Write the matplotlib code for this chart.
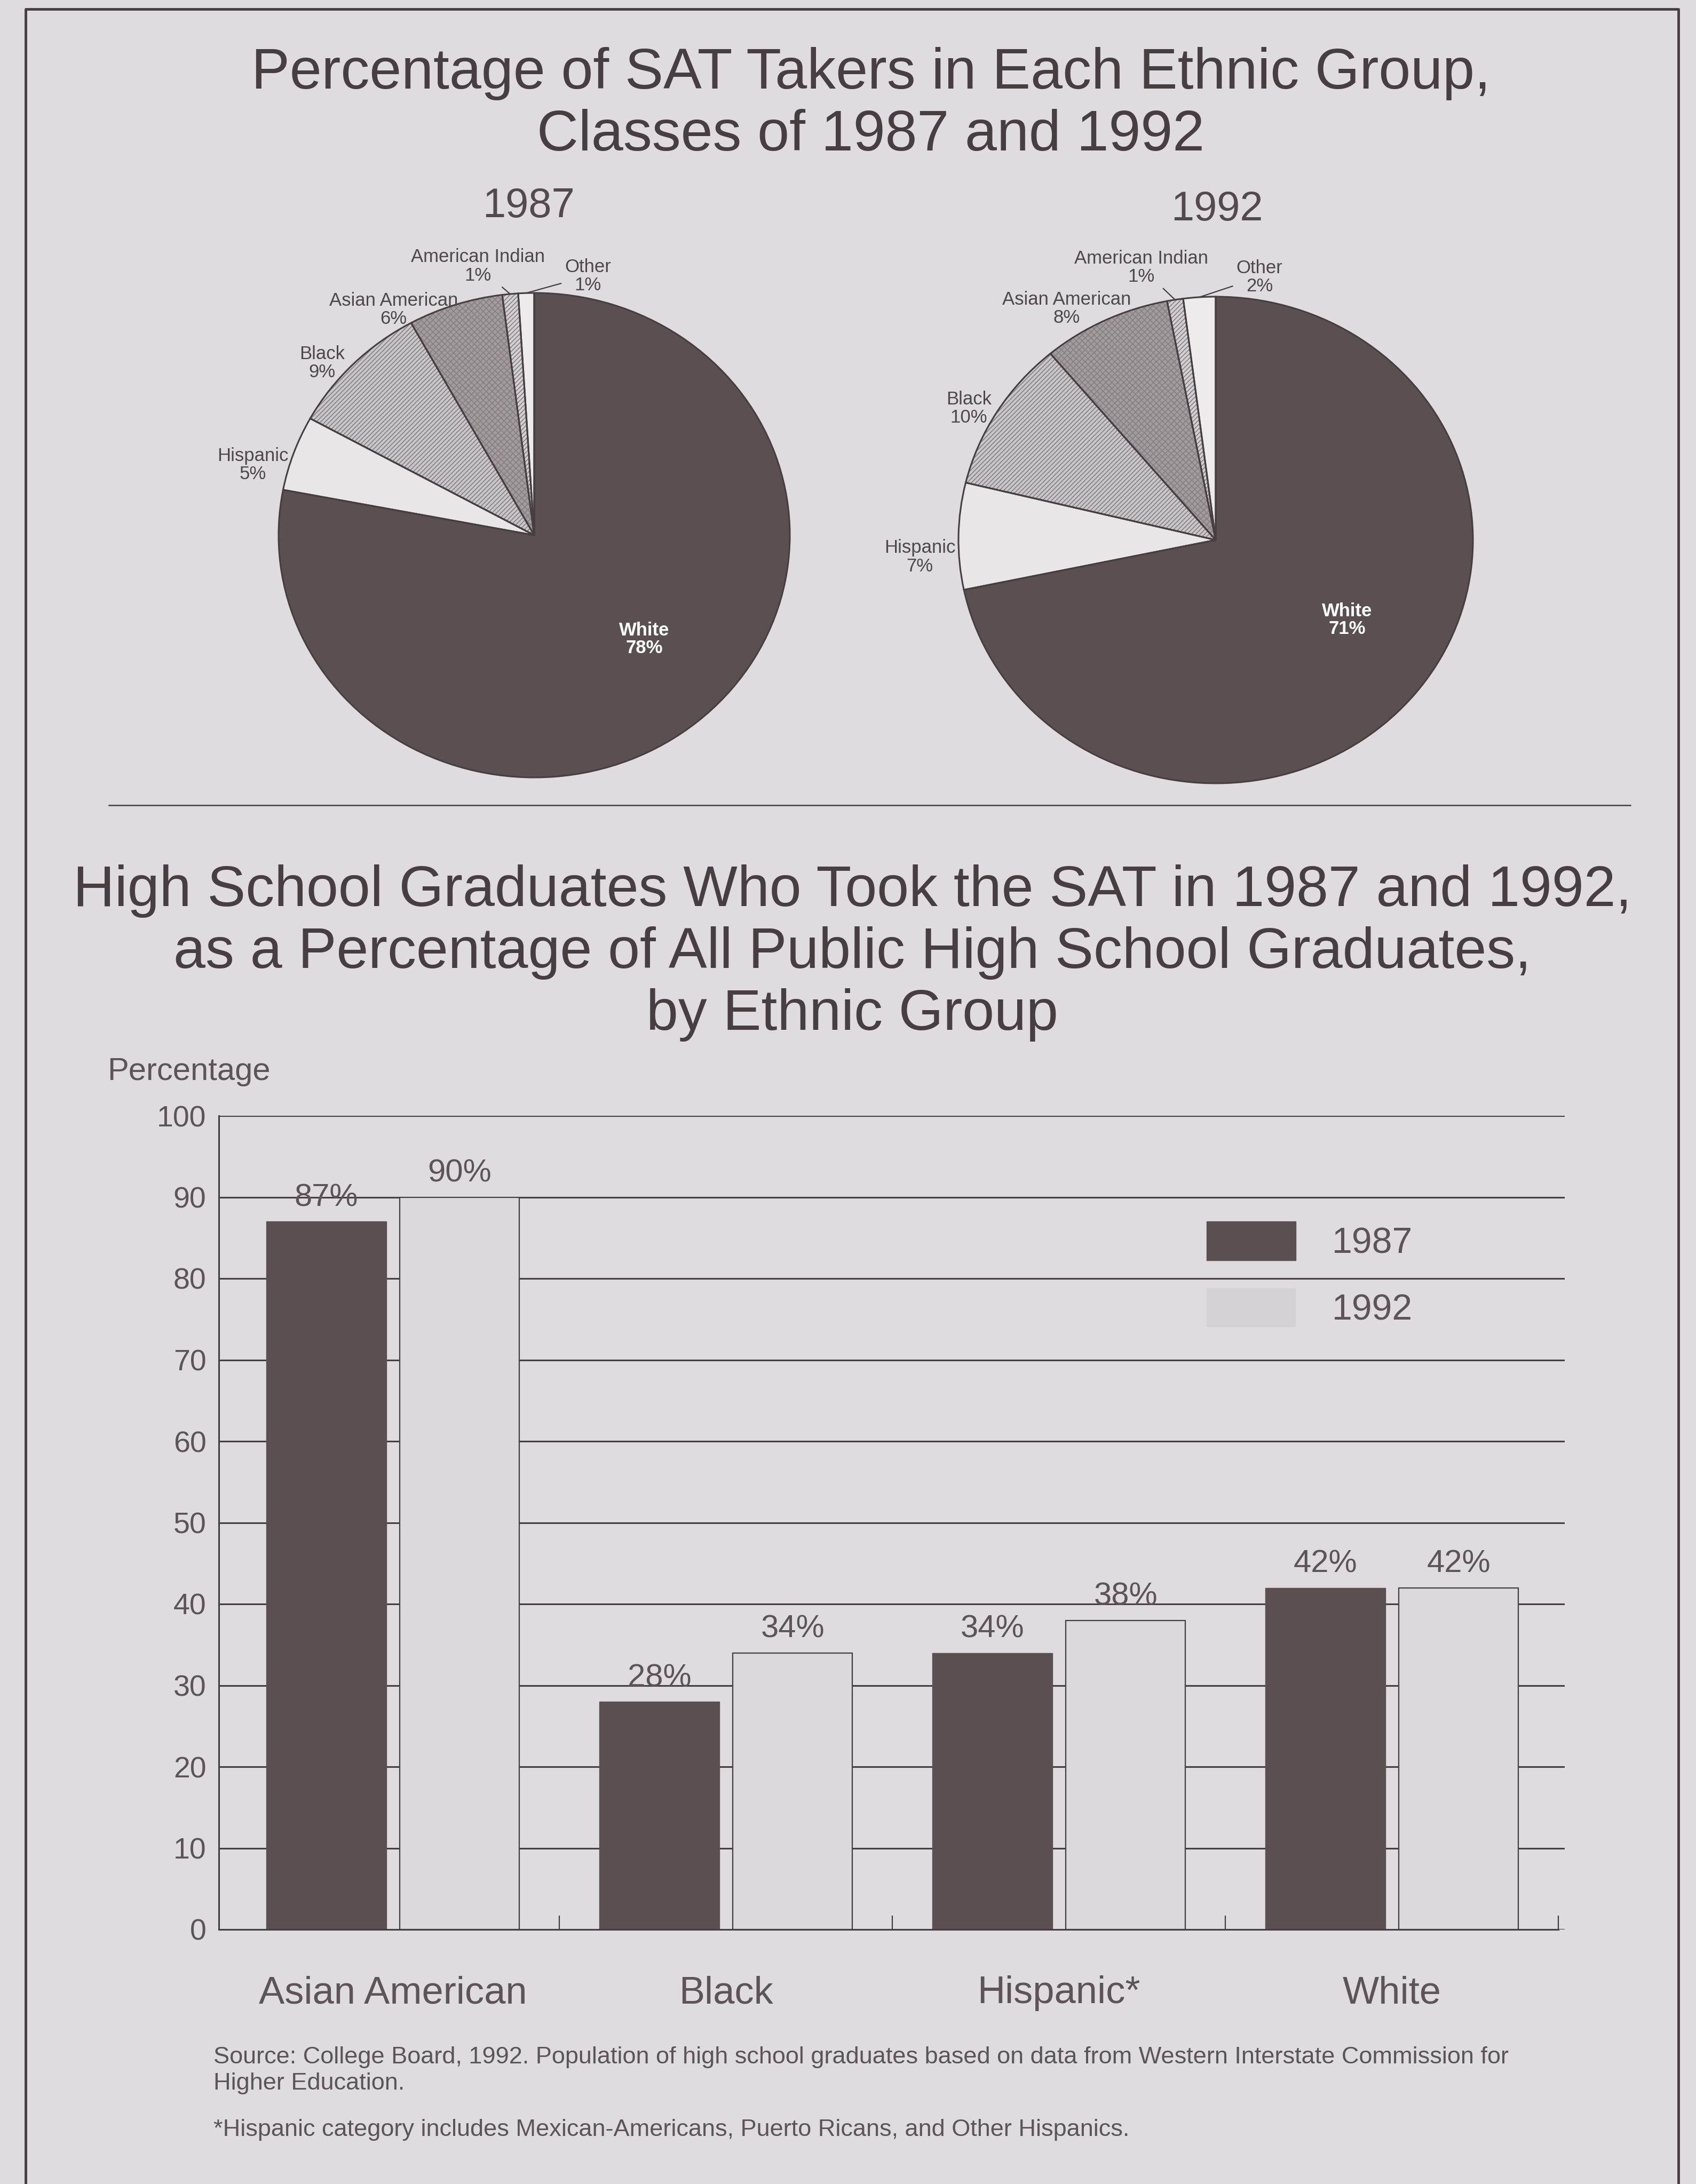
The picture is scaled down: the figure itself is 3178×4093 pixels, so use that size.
import numpy as np
import matplotlib.pyplot as plt
import matplotlib.patches as mpatches
from matplotlib.lines import Line2D

# pie data: share of SAT takers (%), clockwise from 12 o'clock
pie_groups = ['White', 'Hispanic', 'Black', 'Asian American', 'American Indian', 'Other']
share_1987 = [78, 5, 9, 6, 1, 1]
share_1992 = [71, 7, 10, 8, 1, 2]

# bar data: graduates who took the SAT (% of public HS graduates)
bar_groups = ['Asian American', 'Black', 'Hispanic*', 'White']
took_1987 = [87, 28, 34, 42]
took_1992 = [90, 34, 38, 42]
years = ['1987', '1992']
y_ticks = [0, 10, 20, 30, 40, 50, 60, 70, 80, 90, 100]

W, H = 3178, 4093
paper = '#dfdbde'
ink = '#463e40'
grey_txt = '#5c5457'
dark = '#5a5052'
light = '#dcd8db'

plt.rcParams['font.family'] = ['Liberation Sans', 'DejaVu Sans']
plt.rcParams['hatch.color'] = '#877f82'
plt.rcParams['hatch.linewidth'] = 1.2


def fx(x):
    return x / W


def fy(y):
    return 1 - y / H


def box(x0, y0, x1, y1):
    # pixel box of the reference -> figure fraction rect
    return [x0 / W, 1 - y1 / H, (x1 - x0) / W, (y1 - y0) / H]


fig = plt.figure(figsize=(W / 100, H / 100), dpi=100, facecolor=paper)

# page frame and divider
fig.add_artist(Line2D([fx(48), fx(48), fx(3145), fx(3145)],
                      [fy(4093), fy(17), fy(17), fy(4093)], color=ink, lw=3.5))
fig.add_artist(Line2D([fx(204), fx(3055)], [fy(1509), fy(1509)], color=ink, lw=1.8))

fig.text(fx(1632), fy(196), 'Percentage of SAT Takers in Each Ethnic Group,\nClasses of 1987 and 1992',
         ha='center', va='center', fontsize=77.5, color=ink, linespacing=1.2)

# ---- pies ----
pie_fill = ['#5a5052', '#e9e6e8', '#cbc6c9', '#a39c9f', '#d4cfd2', '#eeebed']
pie_hatch = ['', '', '////', 'xxx', '////', '']
pie_boxes = [(522, 549, 1480, 1457), (1796, 556, 2760, 1468)]
year_pos = [(990, 386), (2280, 392)]
lab_pos = [
    [(0.43, -0.43), (-1.10, 0.29), (-0.83, 0.71), (-0.55, 0.93), (-0.22, 1.11), (0.21, 1.07)],
    [(0.51, -0.33), (-1.15, -0.07), (-0.96, 0.54), (-0.58, 0.95), (-0.29, 1.12), (0.17, 1.08)],
]

for shares, yr, pb, yp, lp in zip([share_1987, share_1992], years, pie_boxes, year_pos, lab_pos):
    ax = fig.add_axes(box(*pb))
    ax.pie(shares, colors=pie_fill, hatch=pie_hatch, startangle=90, counterclock=False,
           wedgeprops=dict(linewidth=0))
    wedges, _ = ax.pie(shares, colors=['none'] * len(shares), startangle=90, counterclock=False,
                       wedgeprops=dict(edgecolor=ink, linewidth=2.2, fill=False))
    ax.set_aspect('auto')
    ax.set_xlim(-1, 1)
    ax.set_ylim(-1, 1)
    fig.text(fx(yp[0]), fy(yp[1]), yr, ha='center', va='center', fontsize=56, color='#524a4d')
    for name, v, w, p in zip(pie_groups, shares, wedges, lp):
        txt = f'{name}\n{v}%'
        if name == 'White':
            ax.text(p[0], p[1], txt, ha='center', va='center', fontsize=25, color='white',
                    fontweight='bold', linespacing=1.0)
        elif name in ('American Indian', 'Other'):
            mid = np.deg2rad((w.theta1 + w.theta2) / 2)
            ax.annotate(txt, xy=(np.cos(mid), np.sin(mid)), xytext=p, ha='center', va='center',
                        fontsize=25, color='#4f4749', linespacing=1.05,
                        arrowprops=dict(arrowstyle='-', color=ink, lw=1.6, shrinkA=3, shrinkB=0))
        else:
            ax.text(p[0], p[1], txt, ha='center', va='center', fontsize=25, color='#4f4749',
                    linespacing=1.05)

# ---- bar chart ----
fig.text(fx(1597), fy(1786),
         'High School Graduates Who Took the SAT in 1987 and 1992,\n'
         'as a Percentage of All Public High School Graduates,\nby Ethnic Group',
         ha='center', va='center', fontsize=77.5, color=ink, linespacing=1.2)
fig.text(fx(201), fy(2008), 'Percentage', ha='left', va='center', fontsize=43, color=grey_txt)

axb = fig.add_axes(box(410, 2091, 2932, 3616))
axb.set_facecolor('none')
x = np.arange(len(bar_groups))
axb.bar(x - 0.2, took_1987, 0.36, color=dark, edgecolor=dark, lw=1)
axb.bar(x + 0.2, took_1992, 0.36, color=light, edgecolor=ink, lw=1.6)
for xs, vals in [(x - 0.2, took_1987), (x + 0.2, took_1992)]:
    for xi, v in zip(xs, vals):
        axb.annotate(f'{v}%', (xi, v), xytext=(0, 12), textcoords='offset points',
                     ha='center', va='bottom', fontsize=43, color=grey_txt)

axb.set_xlim(-0.523, 3.519)
axb.set_ylim(0, 100)
axb.set_yticks(y_ticks)
axb.tick_params(axis='y', length=0, pad=17, labelsize=40, labelcolor=grey_txt)
axb.set_xticks(x)
axb.set_xticklabels(bar_groups)
axb.tick_params(axis='x', which='major', length=0, pad=62, labelsize=52, labelcolor=grey_txt)
axb.set_xticks([0.5, 1.5, 2.5, 3.5], minor=True)
axb.tick_params(axis='x', which='minor', direction='in', length=19, width=1.6, color=ink)
axb.grid(axis='y', color=ink, lw=2.2)
axb.set_axisbelow(True)
for s in ['top', 'right']:
    axb.spines[s].set_visible(False)
for s in ['left', 'bottom']:
    axb.spines[s].set_color(ink)
    axb.spines[s].set_linewidth(2.2)
axb.spines['bottom'].set_bounds(-0.523, 3.5)

handles = [mpatches.Patch(facecolor=dark, edgecolor=dark),
           mpatches.Patch(facecolor='#d5d1d4', edgecolor='none')]
axb.legend(handles, years, loc='upper left', bbox_to_anchor=(0.734, 0.87), frameon=False,
           fontsize=49, handlelength=2.45, handleheight=1.27, handletextpad=1.0,
           labelspacing=0.76, borderpad=0, borderaxespad=0, labelcolor=grey_txt)

fig.text(fx(400), fy(3880),
         'Source: College Board, 1992. Population of high school graduates based on data from '
         'Western Interstate Commission for\nHigher Education.',
         ha='left', va='center', fontsize=32.5, color=grey_txt, linespacing=1.22)
fig.text(fx(400), fy(3992),
         '*Hispanic category includes Mexican-Americans, Puerto Ricans, and Other Hispanics.',
         ha='left', va='center', fontsize=32.5, color=grey_txt)

fig.savefig('out.png', dpi=100, facecolor=paper)
